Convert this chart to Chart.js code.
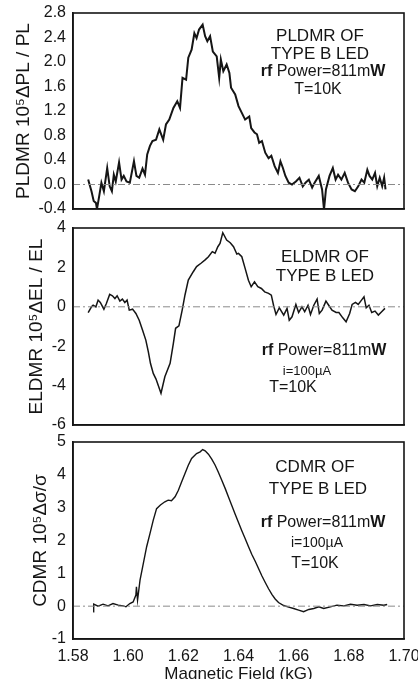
<!DOCTYPE html>
<html>
<head>
<meta charset="utf-8">
<script src="https://cdn.jsdelivr.net/npm/chart.js@4.4.1/dist/chart.umd.min.js"></script>
<style>
  html, body { margin: 0; padding: 0; background: #fff; overflow: hidden; width: 418px; height: 679px; }
  .panel { position: absolute; left: 0; width: 418px; }
</style>
</head>
<body>
<div class="panel" style="top:0;height:215px"><canvas id="plChart"></canvas></div>
<div class="panel" style="top:215px;height:215px"><canvas id="elChart"></canvas></div>
<div class="panel" style="top:425px;height:260px"><canvas id="cdChart"></canvas></div>
<script>
// magnetic field axis (kG)
const fieldTicks = [1.58, 1.60, 1.62, 1.64, 1.66, 1.68, 1.70];

// PLDMR, 10^5 dPL/PL
const plTicks = [-0.4, 0.0, 0.4, 0.8, 1.2, 1.6, 2.0, 2.4, 2.8];
const plField = [1.5855,1.5867,1.5875,1.5883,1.5887,1.5895,1.5903,1.5912,1.5924,1.5933,1.5941,1.5948,1.5955,1.5967,1.5976,1.5984,1.5994,1.6006,1.6021,1.6030,1.6040,1.6052,1.6061,1.6069,1.6079,1.6088,1.6101,1.6113,1.6127,1.6137,1.6149,1.6164,1.6178,1.6188,1.6197,1.6210,1.6218,1.6230,1.6240,1.6248,1.6257,1.6270,1.6279,1.6287,1.6297,1.6307,1.6321,1.6330,1.6336,1.6345,1.6357,1.6367,1.6373,1.6388,
  1.6400,1.6412,1.6424,1.6439,1.6446,1.6458,1.6467,1.6475,1.6485,1.6497,1.6509,1.6519,1.6531,1.6543,1.6552,1.6561,1.6570,1.6582,1.6594,1.6608,1.6621,1.6633,1.6643,1.6655,1.6667,1.6676,1.6691,1.6703,1.6710,1.6717,1.6730,1.6742,1.6752,1.6761,1.6773,1.6785,1.6797,1.6810,1.6822,1.6834,1.6846,1.6856,1.6867,1.6875,1.6885,1.6895,1.6903,1.6912,1.6921,1.6928,1.6933];
const plSignal = [0.08,-0.11,-0.27,-0.30,-0.40,-0.19,0.03,-0.11,0.27,-0.03,-0.11,0.16,0.05,0.36,0.08,0.14,0.05,0.03,0.38,0.14,0.11,0.26,0.16,0.49,0.63,0.71,0.73,0.90,0.73,0.98,1.06,1.25,1.36,1.25,1.74,1.71,2.07,2.20,2.47,2.39,2.53,2.61,2.42,2.34,2.42,2.17,2.09,1.74,2.04,1.85,1.96,1.82,1.58,1.47,
  1.28,1.17,1.06,1.11,0.92,0.85,0.82,0.68,0.71,0.52,0.43,0.47,0.30,0.19,0.38,0.27,0.14,0.03,0.00,0.05,0.11,-0.03,0.03,0.08,-0.05,0.03,0.14,-0.08,-0.41,-0.08,0.14,0.27,0.08,0.16,0.08,0.19,0.03,-0.08,-0.11,-0.03,0.08,0.03,0.24,0.14,0.08,0.19,-0.03,0.11,-0.03,0.11,-0.08];

// ELDMR, 10^5 dEL/EL
const elTicks = [-6, -4, -2, 0, 2, 4];
const elField = [1.5855,1.5867,1.5873,1.5883,1.5891,1.5899,1.5912,1.5921,1.5933,1.5943,1.5952,1.5960,1.5970,1.5979,1.5988,1.5996,1.6004,1.6016,1.6028,1.6040,1.6052,1.6064,1.6073,1.6081,1.6091,1.6101,1.6119,1.6133,1.6152,1.6164,1.6172,1.6184,1.6196,1.6206,1.6218,1.6236,1.6248,1.6264,1.6279,1.6291,1.6305,1.6315,1.6325,1.6333,1.6343,1.6357,1.6370,1.6382,1.6394,
  1.6400,1.6412,1.6424,1.6436,1.6446,1.6458,1.6470,1.6483,1.6495,1.6509,1.6519,1.6527,1.6536,1.6548,1.6564,1.6576,1.6584,1.6594,1.6608,1.6618,1.6630,1.6640,1.6652,1.6661,1.6673,1.6685,1.6693,1.6703,1.6717,1.6727,1.6739,1.6754,1.6764,1.6778,1.6790,1.6803,1.6812,1.6824,1.6834,1.6846,1.6855,1.6863,1.6873,1.6883,1.6895,1.6907,1.6919,1.6931];
const elSignal = [-0.29,0.00,0.08,0.00,0.34,0.22,-0.12,0.17,0.63,0.56,0.42,0.56,0.29,0.39,0.22,0.34,-0.17,-0.12,-0.34,-0.68,-1.18,-1.69,-2.28,-2.88,-3.38,-3.67,-4.39,-3.55,-2.87,-1.85,-1.09,-0.97,-0.16,0.60,1.36,1.78,2.04,2.21,2.38,2.54,2.80,2.72,3.05,3.22,3.76,3.39,3.25,3.05,2.68,
  2.71,2.54,1.95,1.35,1.02,1.27,1.02,0.93,0.76,0.68,0.59,0.08,-0.39,-0.05,-0.42,-0.08,-0.68,-0.51,0.12,-0.29,0.00,-0.25,0.08,-0.39,0.08,0.39,-0.34,-0.17,0.29,0.08,-0.17,-0.29,-0.29,-0.56,-0.76,-0.34,0.12,0.22,0.12,0.34,0.51,-0.05,0.08,-0.29,-0.22,-0.42,-0.25,-0.08];

// CDMR, 10^5 dsigma/sigma
const cdTicks = [-1, 0, 1, 2, 3, 4, 5];
const cdField = [1.5873,1.5875,1.5891,1.5909,1.5927,1.5945,1.5964,1.5982,1.5992,1.6006,1.6018,1.6028,1.6030,1.6034,1.6043,1.6055,1.6067,1.6079,1.6091,1.6103,1.6117,1.6133,1.6145,1.6157,1.6170,1.6182,1.6194,1.6206,1.6218,1.6230,1.6248,1.6261,1.6270,1.6279,1.6291,1.6303,1.6315,1.6327,1.6339,1.6352,1.6364,1.6376,1.6388,1.6400,1.6412,1.6424,1.6436,1.6448,1.6461,1.6473,1.6485,1.6497,1.6509,1.6521,1.6533,1.6545,1.6564,1.6582,1.6600,1.6618,1.6636,1.6655,1.6673,1.6691,1.6709,1.6733,1.6757,1.6782,1.6806,1.6830,1.6855,1.6879,1.6903,1.6927,1.6939];
const cdSignal = [-0.17,0.06,0.00,0.06,0.01,0.08,0.03,0.01,-0.02,0.08,0.13,0.34,0.59,0.18,0.79,1.30,1.81,2.21,2.62,2.97,3.08,3.18,3.23,3.21,3.33,3.53,3.79,4.04,4.29,4.50,4.65,4.70,4.77,4.73,4.63,4.48,4.30,4.08,3.84,3.58,3.32,3.06,2.80,2.55,2.30,2.06,1.82,1.58,1.36,1.14,0.92,0.72,0.53,0.36,0.22,0.11,0.02,-0.03,-0.07,-0.12,-0.17,-0.10,-0.07,-0.02,-0.07,-0.02,0.03,0.01,0.06,0.03,0.05,0.01,0.05,0.03,0.05];

const FONT = '"Liberation Sans", Arial, Helvetica, sans-serif';
const INK = '#151515';

// panel text + frame round the plot area
const notesPlugin = {
  id: 'notes',
  afterDraw(chart, args, opts) {
    const ctx = chart.ctx;
    const a = chart.chartArea;
    ctx.save();
    ctx.strokeStyle = INK;
    ctx.lineWidth = 1.6;
    ctx.strokeRect(a.left, a.top, a.right - a.left, a.bottom - a.top);
    ctx.fillStyle = INK;
    ctx.textBaseline = 'middle';
    ctx.textAlign = 'left';
    for (const line of opts.lines || []) {
      let total = 0;
      for (const p of line.parts) {
        ctx.font = (p.bold ? 'bold ' : '') + line.size + 'px ' + FONT;
        total += ctx.measureText(p.t).width;
      }
      let x = line.x - total / 2;
      for (const p of line.parts) {
        ctx.font = (p.bold ? 'bold ' : '') + line.size + 'px ' + FONT;
        ctx.fillText(p.t, x, line.y);
        x += ctx.measureText(p.t).width;
      }
    }
    ctx.restore();
  }
};

function rfLine(x, y) {
  return { x, y, size: 16, parts: [{ t: 'rf ', bold: true }, { t: 'Power=811m' }, { t: 'W', bold: true }] };
}
function plain(t, x, y, size) {
  return { x, y, size, parts: [{ t }] };
}

function makePanel(id, cfg) {
  const points = cfg.field.map((x, i) => ({ x, y: cfg.signal[i] }));
  const zero = [{ x: fieldTicks[0], y: 0 }, { x: fieldTicks[fieldTicks.length - 1], y: 0 }];
  new Chart(document.getElementById(id), {
    type: 'line',
    data: {
      datasets: [
        { data: zero, borderColor: '#8a8a8a', borderWidth: 1, borderDash: [7, 3, 2, 3], pointRadius: 0 },
        { data: points, borderColor: INK, borderWidth: cfg.lineWidth, pointRadius: 0, tension: 0 }
      ]
    },
    options: {
      responsive: true,
      maintainAspectRatio: false,
      animation: false,
      layout: { padding: { top: cfg.padTop, right: 14, bottom: 0, left: 0 } },
      plugins: {
        legend: { display: false },
        tooltip: { enabled: false },
        notes: { lines: cfg.notes }
      },
      scales: {
        x: {
          type: 'linear',
          min: fieldTicks[0],
          max: fieldTicks[fieldTicks.length - 1],
          afterBuildTicks: s => { s.ticks = fieldTicks.map(v => ({ value: v })); },
          afterFit: s => { s.height = cfg.xHeight; s.paddingLeft = 0; s.paddingRight = 0; },
          grid: { drawOnChartArea: false, drawTicks: false },
          border: { color: INK, width: 1.6 },
          ticks: {
            display: cfg.showX, padding: 8, color: INK, maxRotation: 0, autoSkip: false,
            font: { family: FONT, size: 16 },
            callback: v => v.toFixed(2)
          },
          title: {
            display: cfg.showX, text: 'Magnetic Field (kG)', color: INK,
            font: { family: FONT, size: 17 }, padding: 0
          }
        },
        y: {
          min: cfg.ticks[0],
          max: cfg.ticks[cfg.ticks.length - 1],
          afterBuildTicks: s => { s.ticks = cfg.ticks.map(v => ({ value: v })); },
          afterFit: s => { s.width = 73; s.paddingTop = 0; s.paddingBottom = 0; },
          grid: { drawOnChartArea: false, drawTicks: false },
          border: { color: INK, width: 1.6 },
          ticks: {
            padding: 7, color: INK,
            font: { family: FONT, size: 16 },
            callback: v => v.toFixed(cfg.decimals)
          },
          title: {
            display: true, text: cfg.yTitle, color: INK,
            font: { family: FONT, size: 19 },
            padding: { top: cfg.titlePad, bottom: 0 }
          }
        }
      }
    },
    plugins: [notesPlugin]
  });
}

makePanel('plChart', {
  field: plField, signal: plSignal, ticks: plTicks, decimals: 1, lineWidth: 2,
  padTop: 13, xHeight: 6, showX: false, titlePad: 12,
  yTitle: 'PLDMR 10⁵ΔPL / PL',
  notes: [
    plain('PLDMR OF', 320, 36, 17),
    plain('TYPE B LED', 320, 54, 17),
    rfLine(323, 72),
    plain('T=10K', 318, 90, 16)
  ]
});

makePanel('elChart', {
  field: elField, signal: elSignal, ticks: elTicks, decimals: 0, lineWidth: 1.5,
  padTop: 13, xHeight: 5, showX: false, titlePad: 25,
  yTitle: 'ELDMR 10⁵ΔEL / EL',
  notes: [
    plain('ELDMR OF', 325, 42, 17),
    plain('TYPE B LED', 325, 61, 17),
    rfLine(324, 136),
    plain('i=100µA', 307, 156, 13),
    plain('T=10K', 293, 173, 16)
  ]
});

makePanel('cdChart', {
  field: cdField, signal: cdSignal, ticks: cdTicks, decimals: 0, lineWidth: 1.4,
  padTop: 17, xHeight: 46, showX: true, titlePad: 29,
  yTitle: 'CDMR 10⁵Δσ/σ',
  notes: [
    plain('CDMR OF', 315, 42, 17),
    plain('TYPE B LED', 318, 64, 17),
    rfLine(323, 98),
    plain('i=100µA', 317, 118, 14),
    plain('T=10K', 315, 139, 16)
  ]
});
</script>
</body>
</html>
